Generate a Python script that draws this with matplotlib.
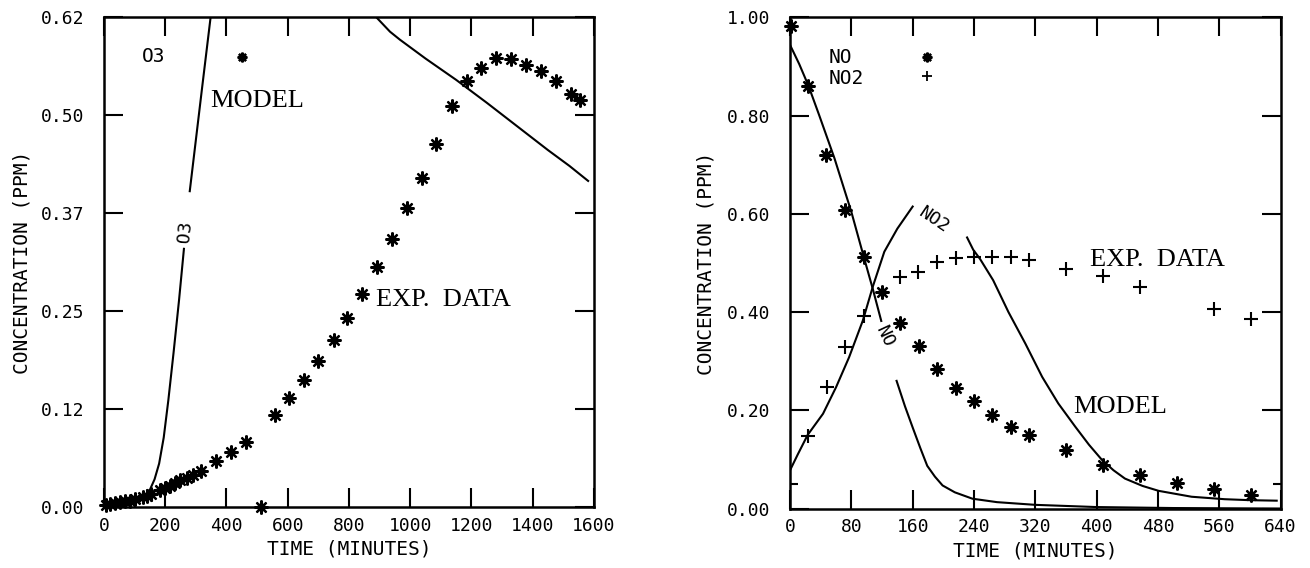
import numpy as np
import matplotlib
matplotlib.use('Agg')
import matplotlib.pyplot as plt

# ---- left panel: ozone ----
o3_t = [5, 20, 36, 52, 69, 85, 102, 126, 140, 155, 183, 200, 215, 232, 248, 272, 290, 316,
        366, 414, 463, 513, 560, 605, 654, 700, 751, 795, 844, 890, 941, 988, 1037,
        1085, 1135, 1184, 1231, 1280, 1328, 1378, 1427, 1475, 1524, 1554]
o3_c = [0.002, 0.004, 0.005, 0.006, 0.007, 0.008, 0.010, 0.013, 0.014, 0.016, 0.021, 0.024,
        0.027, 0.031, 0.034, 0.037, 0.040, 0.046,
        0.058, 0.070, 0.082, 0.000, 0.117, 0.138, 0.161, 0.185, 0.211, 0.239, 0.270, 0.304,
        0.339, 0.379, 0.417, 0.460, 0.508, 0.540, 0.556, 0.569, 0.568, 0.560, 0.552,
        0.540, 0.523, 0.516]

o3_model_t1 = [0, 40, 80, 110, 130, 150, 165, 180, 195, 210, 227, 245, 261]
o3_model_c1 = [0.0, 0.001, 0.003, 0.007, 0.012, 0.022, 0.035, 0.055, 0.088, 0.135, 0.195, 0.262, 0.327]
o3_model_t2 = [280, 300, 320, 348]
o3_model_c2 = [0.400, 0.465, 0.530, 0.620]
o3_model_t3 = [890, 934, 966, 1050, 1150, 1250, 1350, 1450, 1520, 1581]
o3_model_c3 = [0.620, 0.602, 0.592, 0.568, 0.541, 0.512, 0.482, 0.452, 0.432, 0.413]

# ---- right panel: NO / NO2 ----
no_t = [1, 24, 47, 72, 96, 120, 144, 168, 192, 216, 240, 264, 288, 312, 360, 408, 457, 505, 553, 602]
no_c = [0.983, 0.861, 0.720, 0.608, 0.513, 0.440, 0.378, 0.330, 0.285, 0.246, 0.218, 0.191,
        0.167, 0.150, 0.119, 0.089, 0.068, 0.051, 0.039, 0.027]
no2_t = [24, 48, 72, 97, 143, 167, 192, 216, 240, 264, 288, 312, 360, 408, 457, 553, 601]
no2_c = [0.148, 0.248, 0.329, 0.392, 0.471, 0.482, 0.503, 0.510, 0.512, 0.513, 0.513, 0.506,
         0.488, 0.474, 0.451, 0.406, 0.385]

no_model_t1 = [0, 12, 24, 38, 58, 80, 97, 108, 119]
no_model_c1 = [0.944, 0.905, 0.861, 0.801, 0.713, 0.604, 0.508, 0.447, 0.382]
no_model_t2 = [139, 150, 160, 170, 179, 189, 199, 215, 238, 270, 320, 400, 500, 640]
no_model_c2 = [0.260, 0.208, 0.165, 0.123, 0.087, 0.065, 0.047, 0.033, 0.020, 0.013, 0.0075,
               0.003, 0.001, 0.0]
no2_model_t1 = [0, 10, 23, 43, 60, 77, 95, 108, 123, 140, 160]
no2_model_c1 = [0.078, 0.110, 0.150, 0.193, 0.247, 0.308, 0.383, 0.452, 0.523, 0.570, 0.615]
no2_model_t2 = [231, 239, 248, 265, 285, 307, 329, 350, 372, 390, 407, 422, 437, 460, 481,
                524, 567, 600, 635]
no2_model_c2 = [0.552, 0.527, 0.508, 0.465, 0.400, 0.336, 0.268, 0.214, 0.167, 0.130, 0.099,
                0.078, 0.061, 0.046, 0.036, 0.024, 0.019, 0.017, 0.016]

left_xticks = [0, 200, 400, 600, 800, 1000, 1200, 1400, 1600]
left_yticks = [0.0, 0.124, 0.248, 0.372, 0.496, 0.62]
right_xticks = [0, 80, 160, 240, 320, 400, 480, 560, 640]
right_yticks = [0.0, 0.2, 0.4, 0.6, 0.8, 1.0]

MONO = 'DejaVu Sans Mono'
SERIF = 'Liberation Serif'
plt.rcParams['font.family'] = MONO


def star(ax, x, y, size=10, core=5):
    ax.plot(x, y, ls='none', marker=(8, 2, 0), ms=size, mew=1.6, color='k', clip_on=False, zorder=4)
    ax.plot(x, y, ls='none', marker='o', ms=core, color='k', clip_on=False, zorder=4)


def style_axes(ax, xticks, yticks, xlim, ylim):
    ax.set_xlim(*xlim)
    ax.set_ylim(*ylim)
    ax.set_xticks(xticks)
    ax.set_yticks(yticks)
    ax.set_xticklabels(['%d' % v for v in xticks], fontsize=13)
    ax.set_yticklabels(['%.2f' % v for v in yticks], fontsize=13)
    ax.tick_params(direction='in', length=14, width=1.5, top=True, right=True, pad=7)
    ax.tick_params(axis='y', pad=14)
    for s in ax.spines.values():
        s.set_linewidth(1.8)
    ax.set_xlabel('TIME (MINUTES)', fontsize=14)
    ax.set_ylabel('CONCENTRATION (PPM)', fontsize=14)
    ax.xaxis.set_label_coords(0.5, -0.067)


fig = plt.figure(figsize=(13.1, 5.68), dpi=100)
ax1 = fig.add_axes([0.0794, 0.1074, 0.374, 0.8618])
ax2 = fig.add_axes([0.6031, 0.1047, 0.3744, 0.8645])

# left panel
style_axes(ax1, left_xticks, left_yticks, (0, 1600), (0, 0.62))
ax1.yaxis.set_label_coords(-0.149, 0.5)
ax1.plot(o3_model_t1, o3_model_c1, color='k', lw=1.5)
ax1.plot(o3_model_t2, o3_model_c2, color='k', lw=1.5)
ax1.plot(o3_model_t3, o3_model_c3, color='k', lw=1.5)
star(ax1, o3_t, o3_c)
ax1.text(123, 0.571, 'O3', fontsize=14, va='center', ha='left')
star(ax1, [450], [0.570], size=7, core=5)
ax1.text(266, 0.349, 'O3', fontsize=13, rotation=84, ha='center', va='center')
ax1.text(346, 0.514, 'MODEL', family=SERIF, fontsize=19, va='center')
ax1.text(888, 0.262, 'EXP.  DATA', family=SERIF, fontsize=19, va='center')

# right panel
style_axes(ax2, right_xticks, right_yticks, (0, 640), (0, 1.0))
ax2.yaxis.set_label_coords(-0.153, 0.5)
ax2.set_yticks([0.05], minor=True)
ax2.tick_params(which='minor', direction='in', length=6, width=1.5, right=True)
ax2.plot(no_model_t1, no_model_c1, color='k', lw=1.5)
ax2.plot(no_model_t2, no_model_c2, color='k', lw=1.5)
ax2.plot(no2_model_t1, no2_model_c1, color='k', lw=1.5)
ax2.plot(no2_model_t2, no2_model_c2, color='k', lw=1.5)
star(ax2, no_t, no_c)
ax2.plot(no2_t, no2_c, ls='none', marker='+', ms=10, mew=1.5, color='k', clip_on=False, zorder=4)
ax2.text(50, 0.918, 'NO', fontsize=14, va='center', ha='left')
ax2.text(50, 0.876, 'NO2', fontsize=14, va='center', ha='left')
star(ax2, [179], [0.920], size=7, core=5)
ax2.plot([179], [0.880], ls='none', marker='+', ms=7, mew=1.3, color='k')
ax2.text(188, 0.588, 'NO2', fontsize=13, rotation=-34, ha='center', va='center')
ax2.text(124, 0.349, 'NO', fontsize=13, rotation=-65, ha='center', va='center')
ax2.text(392, 0.506, 'EXP.  DATA', family=SERIF, fontsize=19, va='center')
ax2.text(370, 0.207, 'MODEL', family=SERIF, fontsize=19, va='center')

fig.savefig('out.png', dpi=100)
